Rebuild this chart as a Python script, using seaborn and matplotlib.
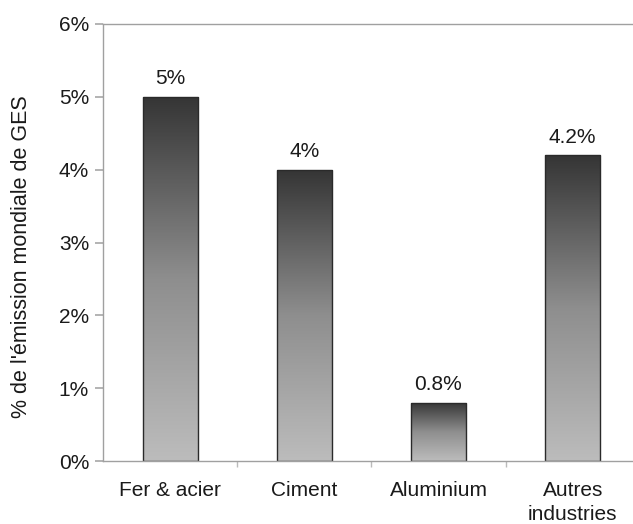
import numpy as np
import pandas as pd
import matplotlib
matplotlib.use("Agg")
import matplotlib.pyplot as plt
import seaborn as sns
from matplotlib.ticker import FixedLocator

# Data
categories = ["Fer & acier", "Ciment", "Aluminium", "Autres\nindustries"]
values = [5.0, 4.0, 0.8, 4.2]
value_labels = ["5%", "4%", "0.8%", "4.2%"]
y_ticks = [0, 1, 2, 3, 4, 5, 6]
y_ticklabels = ["0%", "1%", "2%", "3%", "4%", "5%", "6%"]


def draw_chart(output_file="out.png"):
    sns.set_theme(style="white")
    plt.rcParams["font.family"] = ["Liberation Sans", "DejaVu Sans"]

    df = pd.DataFrame({"cat": categories, "val": values})

    fig = plt.figure(figsize=(6.33, 5.24), dpi=100)
    ax = fig.add_axes([0.1627, 0.1202, 0.848, 0.834])

    sns.barplot(data=df, x="cat", y="val", ax=ax, width=0.41,
                color="#777777", edgecolor="#2a2a2a", linewidth=1.0)

    # vertical gradient, dark on top and light at the bottom, clipped to each bar
    grad = np.linspace(0, 1, 256).reshape(-1, 1)
    cmap = matplotlib.colors.LinearSegmentedColormap.from_list(
        "g", ["#bcbcbc", "#8e8e8e", "#353535"])
    for patch in ax.patches:
        x0, y0 = patch.get_x(), patch.get_y()
        w, h = patch.get_width(), patch.get_height()
        im = ax.imshow(grad, cmap=cmap, origin="lower", aspect="auto",
                       extent=[x0, x0 + w, y0, y0 + h], zorder=patch.get_zorder())
        im.set_clip_path(patch)
        patch.set_facecolor("none")
        patch.set_zorder(patch.get_zorder() + 0.1)

    for i, (v, lab) in enumerate(zip(values, value_labels)):
        ax.annotate(lab, (i, v), xytext=(0, 9), textcoords="offset points",
                    ha="center", va="baseline", fontsize=15, color="#1a1a1a")

    ax.set_xlim(-0.5, 3.5)
    ax.set_ylim(0, 6)
    ax.set_yticks(y_ticks)
    ax.set_yticklabels(y_ticklabels, fontsize=15, color="#1a1a1a")
    ax.set_xticks(range(len(categories)))
    ax.set_xticklabels(categories, fontsize=15, color="#1a1a1a",
                       linespacing=1.3)
    ax.tick_params(axis="x", length=0, pad=14.5)
    ax.tick_params(axis="y", length=6, color="#aaaaaa", left=True, pad=4)
    ax.xaxis.set_minor_locator(FixedLocator([0.5, 1.5, 2.5]))
    ax.tick_params(axis="x", which="minor", length=4, color="#bbbbbb", bottom=True)

    ax.set_xlabel("")
    ax.set_ylabel("% de l'émission mondiale de GES", fontsize=15.5,
                  color="#1a1a1a")
    ax.yaxis.set_label_coords(-0.132, 0.467)

    for side in ["left", "top", "bottom"]:
        ax.spines[side].set_color("#a0a0a0")
        ax.spines[side].set_linewidth(1.0)
    ax.spines["right"].set_visible(False)

    fig.savefig(output_file, dpi=100)


if __name__ == "__main__":
    draw_chart("out.png")
